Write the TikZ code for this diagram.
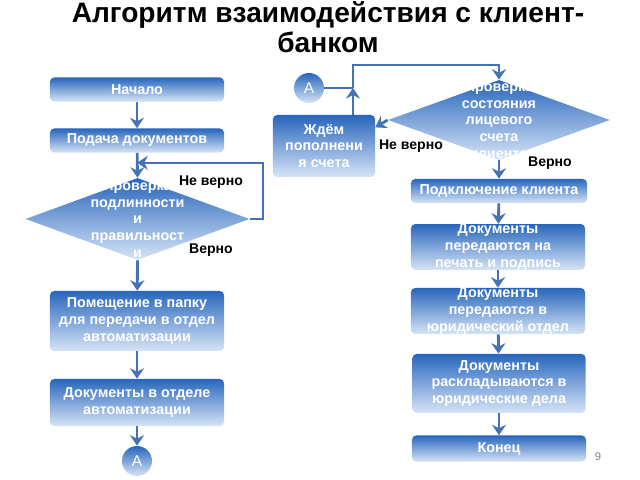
\documentclass[tikz,border=0pt]{standalone}
\usepackage{fontspec}
\setmainfont{Liberation Sans}
\usetikzlibrary{shapes.geometric,arrows.meta,calc}
\definecolor{boxtop}{RGB}{40,102,188}
\definecolor{boxbot}{RGB}{214,228,246}
\definecolor{linkblue}{RGB}{68,114,180}

\begin{document}
\begin{tikzpicture}[x=0.025cm,y=-0.025cm,>={Stealth[length=7.5pt,width=10pt,inset=2.5pt]},
    block/.style={rectangle,rounded corners=3pt,top color=boxtop,bottom color=boxbot,
      text=white,font=\bfseries\fontsize{10.2}{11.8}\selectfont,align=center,inner sep=0pt},
    decision/.style={diamond,top color=boxtop,bottom color=boxbot,inner sep=0pt},
    dectext/.style={text=white,font=\bfseries\fontsize{10.2}{11.8}\selectfont,align=center},
    connector/.style={circle,top color=boxtop,bottom color=boxbot,text=white,
      font=\fontsize{11}{12}\selectfont,minimum size=0.75cm,inner sep=0pt},
    link/.style={draw=linkblue,line width=2pt},
    back/.style={draw=linkblue,line width=1.4pt},
    answer/.style={font=\bfseries\fontsize{10}{11}\selectfont}]
  \useasboundingbox (0,0) rectangle (640,480);

  % title
  \node[font=\bfseries\fontsize{20}{21.5}\selectfont,align=center] (title) at (328,27)
    {Алгоритм взаимодействия с клиент-\\банком};

  % left column
  \node[block,minimum width=4.35cm,minimum height=0.6cm] (start) at (137,89.5) {Начало};
  \node[block,minimum width=4.35cm,minimum height=0.6cm] (submit) at (137,140.5) {Подача документов};
  \node[decision,minimum width=5.6cm,minimum height=2.05cm] (check) at (137.5,219) {};
  \node[dectext] (checktxt) at (check) {Проверка\\подлинности\\и\\правильност\\и};
  \node[block,minimum width=4.35cm,minimum height=1.5cm] (folder) at (137,321)
    {Помещение в папку\\для передачи в отдел\\автоматизации};
  \node[block,minimum width=4.35cm,minimum height=1.175cm] (autodept) at (137,402.5)
    {Документы в отделе\\автоматизации};
  \node[connector] (aleft) at (137,461) {А};

  % right column
  \node[connector] (aright) at (309,88) {А};
  \node[block,minimum width=2.55cm,minimum height=1.55cm] (wait) at (324,146)
    {Ждём\\пополнени\\я счета};
  \node[decision,minimum width=5.55cm,minimum height=2cm] (balance) at (499,120) {};
  \node[dectext] (balancetxt) at (balance) {Проверка\\состояния\\лицевого\\счета\\клиента};
  \node[block,minimum width=4.4cm,minimum height=0.6cm] (connect) at (499,191) {Подключение клиента};
  \node[block,minimum width=4.35cm,minimum height=0.95cm] (print) at (498,247)
    {Документы\\передаются на\\печать и подпись};
  \node[block,minimum width=4.35cm,minimum height=0.95cm] (legal) at (498,311)
    {Документы\\передаются в\\юридический отдел};
  \node[block,minimum width=4.33cm,minimum height=1.475cm] (cases) at (499,383.5)
    {Документы\\раскладываются в\\юридические дела};
  \node[block,minimum width=4.35cm,minimum height=0.65cm] (finish) at (499,448.5) {Конец};

  % answers
  \node[answer] (checkno) at (211,182) {Не верно};
  \node[answer] (checkyes) at (211,250) {Верно};
  \node[answer] (balanceno) at (411,146) {Не верно};
  \node[answer] (balanceyes) at (550,163) {Верно};
  \node[text=gray,font=\fontsize{8}{9}\selectfont] (page) at (598,457) {9};

  % links
  \draw[link,->] (start) -- (submit);
  \draw[link,->] (submit) -- (check.north);
  \draw[link,->] (check.south) -- (folder);
  \draw[link,->] (folder) -- (autodept);
  \draw[link,->] (autodept) -- (aleft);
  \coordinate (backin) at ($(submit.south)!0.4!(check.north)$);
  \draw[back,->] (check.east) -- ++(13,0) |- (backin);

  \coordinate (join) at (353,88);
  \draw[back] (aright) -- (join);
  \draw[link,->] (wait.north -| join) -- (join);
  \draw[back,->] (join) -- ++(0,-23) -| (balance.north);
  \draw[link,->] (balance.west) -- (wait.20);
  \draw[link,->] (balance.south) -- (connect);
  \draw[link,->] (connect) -- (print);
  \draw[link,->] (print) -- (legal);
  \draw[link,->] (legal) -- (cases);
  \draw[link,->] (cases) -- (finish);
\end{tikzpicture}
\end{document}
